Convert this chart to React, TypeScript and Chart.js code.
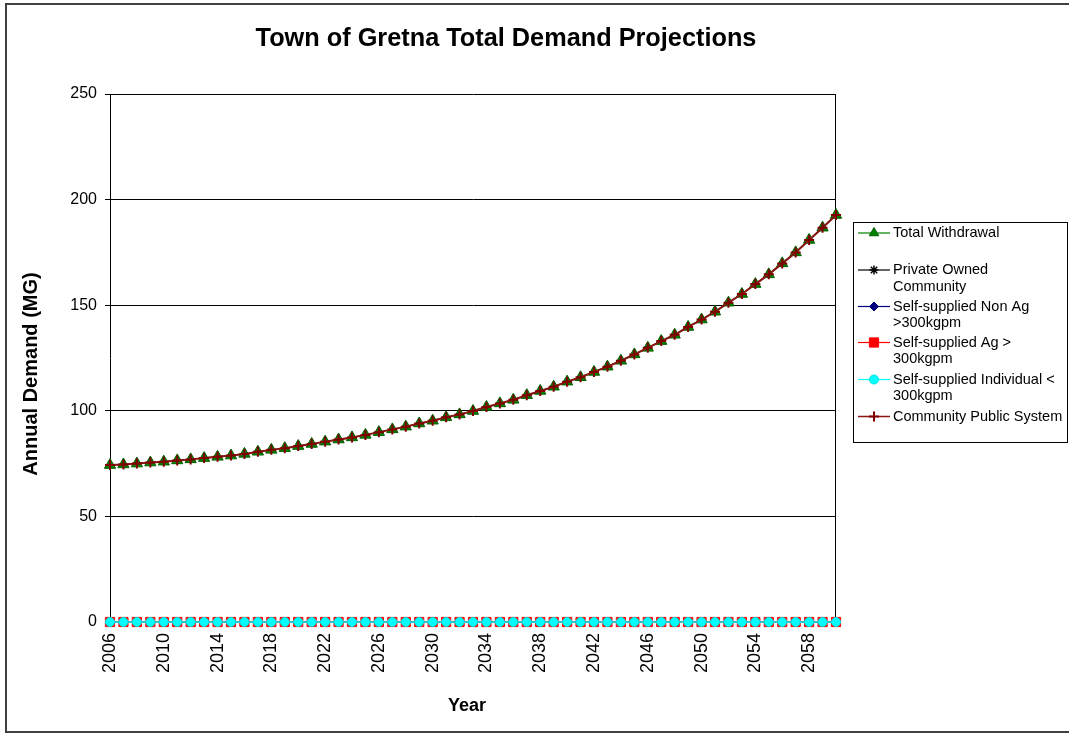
import React, { useEffect, useRef } from 'react';
import { Chart, registerables } from 'chart.js';
import { drawPoint } from 'chart.js/helpers';

Chart.register(...registerables);

const chartTitle = 'Town of Gretna Total Demand Projections';
const yAxisTitle = 'Annual Demand (MG)';
const xAxisTitle = 'Year';

const years = [
  '2006', '2007', '2008', '2009', '2010', '2011', '2012', '2013', '2014', '2015',
  '2016', '2017', '2018', '2019', '2020', '2021', '2022', '2023', '2024', '2025',
  '2026', '2027', '2028', '2029', '2030', '2031', '2032', '2033', '2034', '2035',
  '2036', '2037', '2038', '2039', '2040', '2041', '2042', '2043', '2044', '2045',
  '2046', '2047', '2048', '2049', '2050', '2051', '2052', '2053', '2054', '2055',
  '2056', '2057', '2058', '2059', '2060',
];

const xTickLabels = [
  '2006', '2010', '2014', '2018', '2022', '2026', '2030',
  '2034', '2038', '2042', '2046', '2050', '2054', '2058',
];

const yTicks = [0, 50, 100, 150, 200, 250];

const totalWithdrawal = [
  74.3, 74.6, 75.0, 75.5, 75.9, 76.5, 77.0, 77.6, 78.2, 78.8,
  79.6, 80.6, 81.5, 82.3, 83.3, 84.3, 85.4, 86.4, 87.4, 88.6,
  89.9, 91.2, 92.5, 94.0, 95.3, 96.9, 98.3, 99.9, 101.8, 103.5,
  105.2, 107.4, 109.4, 111.4, 113.8, 115.9, 118.4, 120.9, 123.7, 126.7,
  129.8, 133.0, 136.0, 139.7, 143.2, 146.9, 151.2, 155.3, 160.0, 164.6,
  169.8, 175.0, 180.9, 186.7, 192.7,
];

const communityPublicSystem = [
  74.3, 74.6, 75.0, 75.5, 75.9, 76.5, 77.0, 77.6, 78.2, 78.8,
  79.6, 80.6, 81.5, 82.3, 83.3, 84.3, 85.4, 86.4, 87.4, 88.6,
  89.9, 91.2, 92.5, 94.0, 95.3, 96.9, 98.3, 99.9, 101.8, 103.5,
  105.2, 107.4, 109.4, 111.4, 113.8, 115.9, 118.4, 120.9, 123.7, 126.7,
  129.8, 133.0, 136.0, 139.7, 143.2, 146.9, 151.2, 155.3, 160.0, 164.6,
  169.8, 175.0, 180.9, 186.7, 192.7,
];

const zeroSeries = [
  0, 0, 0, 0, 0, 0, 0, 0, 0, 0,
  0, 0, 0, 0, 0, 0, 0, 0, 0, 0,
  0, 0, 0, 0, 0, 0, 0, 0, 0, 0,
  0, 0, 0, 0, 0, 0, 0, 0, 0, 0,
  0, 0, 0, 0, 0, 0, 0, 0, 0, 0,
  0, 0, 0, 0, 0,
];

const privateOwnedCommunity = zeroSeries;
const selfSuppliedNonAg = zeroSeries;
const selfSuppliedAg = zeroSeries;
const selfSuppliedIndividual = zeroSeries;

const seriesNames = [
  'Total Withdrawal',
  'Private Owned Community',
  'Self-supplied Non Ag >300kgpm',
  'Self-supplied Ag > 300kgpm',
  'Self-supplied Individual < 300kgpm',
  'Community Public System',
];

const legendLines = [
  ['Total Withdrawal'],
  ['Private Owned', 'Community'],
  ['Self-supplied Non Ag', '>300kgpm'],
  ['Self-supplied Ag >', '300kgpm'],
  ['Self-supplied Individual <', '300kgpm'],
  ['Community Public System'],
];

const FONT = '"Liberation Sans", Arial, Helvetica, sans-serif';

const styles = [
  { line: '#008000', fill: '#008000', border: '#006000', pointStyle: 'triangle', radius: 6.5, bw: 1 },
  { line: '#000000', fill: '#000000', border: '#000000', pointStyle: 'star', radius: 4.5, bw: 1.5 },
  { line: '#000080', fill: '#000080', border: '#000080', pointStyle: 'rectRot', radius: 4.5, bw: 1 },
  { line: '#FF0000', fill: '#FF0000', border: '#FF0000', pointStyle: 'rect', radius: 6.5, bw: 1 },
  { line: '#00FFFF', fill: '#00FFFF', border: '#00E0E0', pointStyle: 'circle', radius: 4.5, bw: 1 },
  { line: '#8B1414', fill: '#8B1414', border: '#800000', pointStyle: 'cross', radius: 5, bw: 2 },
];

const seriesData = [
  totalWithdrawal,
  privateOwnedCommunity,
  selfSuppliedNonAg,
  selfSuppliedAg,
  selfSuppliedIndividual,
  communityPublicSystem,
];

const decorPlugin = {
  id: 'decor',
  beforeDatasetsDraw(chart: any) {
    const { ctx, chartArea: a } = chart;
    ctx.save();
    ctx.strokeStyle = '#000';
    ctx.lineWidth = 1;
    ctx.beginPath();
    ctx.moveTo(Math.round(a.right) - 0.5, a.top);
    ctx.lineTo(Math.round(a.right) - 0.5, a.bottom);
    ctx.stroke();
    ctx.restore();
  },
  afterDraw(chart: any) {
    const { ctx } = chart;
    ctx.save();
    // outer frame
    ctx.strokeStyle = '#404040';
    ctx.lineWidth = 2;
    ctx.strokeRect(6, 4, 1100, 728);

    ctx.fillStyle = '#000';
    // chart title
    ctx.font = `bold 25.3px ${FONT}`;
    ctx.textAlign = 'center';
    ctx.textBaseline = 'middle';
    ctx.fillText(chartTitle, 506, 39);

    // x axis title
    ctx.font = `bold 18px ${FONT}`;
    ctx.fillText(xAxisTitle, 467, 706);

    // y axis title
    ctx.save();
    ctx.translate(31, 374);
    ctx.rotate(-Math.PI / 2);
    ctx.font = `bold 20px ${FONT}`;
    ctx.fillText(yAxisTitle, 0, 0);
    ctx.restore();

    // legend box
    ctx.strokeStyle = '#000';
    ctx.lineWidth = 1;
    ctx.strokeRect(853.5, 222.5, 214, 220);

    const itemY = [233, 270, 306.5, 342.5, 379.5, 416.5];
    const lineGap = 16.5;
    ctx.textAlign = 'left';
    ctx.font = `14.5px ${FONT}`;
    legendLines.forEach((lines, i) => {
      const s = styles[i];
      const y = itemY[i];
      ctx.strokeStyle = s.line;
      ctx.lineWidth = i === 5 ? 1.5 : 1.2;
      ctx.beginPath();
      ctx.moveTo(858, y);
      ctx.lineTo(890, y);
      ctx.stroke();
      ctx.fillStyle = s.fill;
      ctx.strokeStyle = s.border;
      ctx.lineWidth = s.bw;
      drawPoint(ctx, { pointStyle: s.pointStyle, radius: i === 0 ? 5.5 : s.radius, rotation: 0, borderWidth: s.bw } as any, 874, y);
      ctx.fillStyle = '#000';
      lines.forEach((t, k) => ctx.fillText(t, 893, y + k * lineGap));
    });
    ctx.restore();
  },
};

export default function App() {
  const ref = useRef<HTMLCanvasElement>(null);
  useEffect(() => {
    if (!ref.current) return;
    const datasets = seriesData.map((data, i) => {
      const s = styles[i];
      return {
        label: seriesNames[i],
        data,
        borderColor: s.line,
        backgroundColor: s.fill,
        borderWidth: i === 5 ? 2 : 1.5,
        pointStyle: s.pointStyle as any,
        pointRadius: s.radius,
        pointHoverRadius: s.radius,
        pointBackgroundColor: s.fill,
        pointBorderColor: s.border,
        pointBorderWidth: s.bw,
        tension: 0,
        clip: false as any,
        order: 6 - i,
      };
    });
    const chart = new Chart(ref.current, {
      type: 'line',
      data: { labels: years, datasets },
      options: {
        animation: false,
        responsive: false,
        devicePixelRatio: 1,
        events: [],
        layout: { padding: { left: 0, top: 94, right: 233, bottom: 0 } },
        plugins: {
          legend: { display: false },
          title: { display: false },
          tooltip: { enabled: false },
        },
        scales: {
          x: {
            type: 'category',
            offset: false,
            afterFit: (scale: any) => { scale.height = 112; },
            grid: {
              drawOnChartArea: false,
              drawTicks: true,
              tickLength: 5,
              color: '#000',
            },
            border: { display: true, color: '#000', width: 1 },
            ticks: {
              autoSkip: false,
              maxRotation: 90,
              minRotation: 90,
              padding: 6,
              color: '#000',
              font: { family: FONT, size: 18 },
              callback: (_v: any, idx: number) =>
                xTickLabels.includes(years[idx]) ? years[idx] : '',
            },
          },
          y: {
            min: 0,
            max: 250,
            afterFit: (scale: any) => { scale.width = 110; },
            afterBuildTicks: (scale: any) => {
              scale.ticks = yTicks.map((v) => ({ value: v }));
            },
            grid: { color: '#000', lineWidth: 1, tickLength: 5, tickColor: '#000' },
            border: { display: true, color: '#000', width: 1 },
            ticks: {
              padding: 8,
              color: '#000',
              font: { family: FONT, size: 16 },
            },
          },
        },
      },
      plugins: [decorPlugin],
    });
    return () => chart.destroy();
  }, []);
  return (
    <div style={{ position: 'absolute', left: 0, top: 0, width: 1069, height: 734, background: '#fff' }}>
      <canvas ref={ref} width={1069} height={734} style={{ display: 'block' }} />
    </div>
  );
}
